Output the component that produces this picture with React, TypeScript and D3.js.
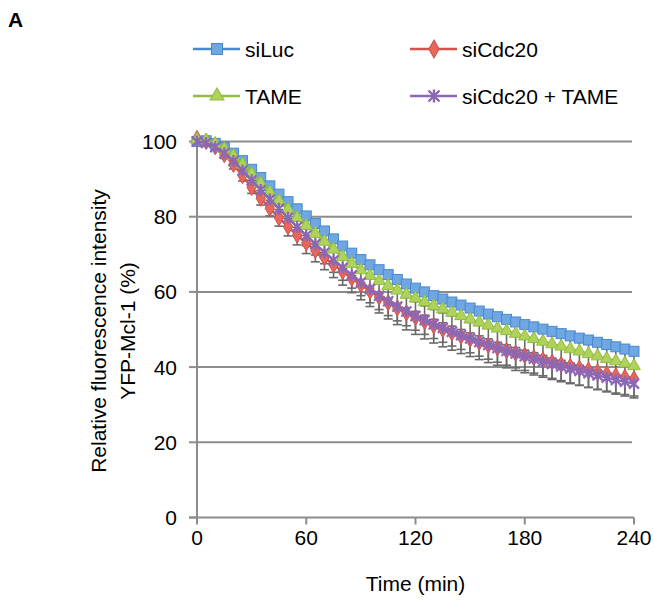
import React from "react";
import * as d3 from "d3";

// time points (min)
const times = [
  0, 5, 10, 15, 20, 25, 30, 35, 40, 45, 50, 55, 60, 65, 70, 75, 80, 85, 90, 95,
  100, 105, 110, 115, 120, 125, 130, 135, 140, 145, 150, 155, 160, 165, 170,
  175, 180, 185, 190, 195, 200, 205, 210, 215, 220, 225, 230, 235, 240,
];

const siLuc = [
  100, 100.2, 99.5, 98.4, 96.9, 94.9, 92.6, 90.4, 88.2, 86.0, 84.0, 82.1, 80.2,
  78.2, 76.2, 74.1, 72.2, 70.3, 68.6, 67.2, 65.9, 64.6, 63.3, 62.1, 61.0, 60.0,
  59.0, 58.1, 57.3, 56.5, 55.7, 54.9, 54.1, 53.4, 52.7, 52.0, 51.3, 50.7, 50.1,
  49.5, 48.9, 48.3, 47.7, 47.2, 46.6, 46.0, 45.4, 44.8, 44.2,
];
const siCdc20 = [
  100.8, 100, 98.6, 96.5, 93.9, 90.9, 87.8, 84.9, 82.2, 79.7, 77.3, 75.1, 73,
  71, 69.1, 67.2, 65.4, 63.6, 61.9, 60.2, 58.6, 57.1, 55.7, 54.4, 53.2, 52.1,
  51, 50, 49.1, 48.2, 47.4, 46.6, 45.8, 45.1, 44.4, 43.7, 43.1, 42.5, 41.9,
  41.3, 40.7, 40.2, 39.7, 39.2, 38.7, 38.2, 37.7, 37.3, 36.9,
];
const tame = [
  100.5, 100.3, 99.4, 98, 96.2, 93.9, 91.4, 88.9, 86.5, 84.2, 81.9, 79.7, 77.6,
  75.5, 73.4, 71.3, 69.3, 67.5, 65.8, 64.3, 62.9, 61.6, 60.4, 59.3, 58.3, 57.3,
  56.3, 55.4, 54.5, 53.6, 52.7, 51.9, 51.1, 50.3, 49.6, 48.9, 48.2, 47.5, 46.8,
  46.1, 45.5, 44.8, 44.2, 43.5, 42.9, 42.2, 41.6, 41.0, 40.3,
];
const combo = [
  100, 99.6, 98.5, 96.9, 94.8, 92.3, 89.7, 87.1, 84.6, 82.1, 79.7, 77.3, 75,
  72.7, 70.5, 68.4, 66.4, 64.4, 62.5, 60.7, 59, 57.5, 56.1, 54.8, 53.6, 52.5,
  51.4, 50.4, 49.4, 48.5, 47.6, 46.7, 45.9, 45.1, 44.3, 43.6, 42.9, 42.2, 41.5,
  40.8, 40.2, 39.6, 39, 38.4, 37.8, 37.2, 36.6, 36.1, 35.6,
];

// error (minus) per point
const errLuc = [
  0, 0.5, 0.8, 1.1, 1.4, 1.6, 1.8, 2.0, 2.2, 2.4, 2.5, 2.6, 2.7, 2.8, 2.9, 3.0,
  3.1, 3.2, 3.3, 3.3, 3.4, 3.5, 3.5, 3.6, 3.6, 3.7, 3.7, 3.7, 3.7, 3.7, 3.8,
  3.8, 3.8, 3.8, 3.8, 3.8, 3.9, 3.9, 3.9, 3.9, 3.9, 3.9, 3.9, 4.0, 4.0, 4.0,
  4.0, 4.0, 4.0,
];
const errCdc20 = [
  0, 0.5, 0.8, 1.0, 1.2, 1.4, 1.6, 1.8, 2.0, 2.2, 2.4, 2.6, 2.8, 3.0, 3.2, 3.4,
  3.6, 3.8, 4.0, 4.1, 4.2, 4.3, 4.4, 4.5, 4.5, 4.6, 4.6, 4.6, 4.6, 4.6, 4.6,
  4.6, 4.6, 4.6, 4.6, 4.6, 4.6, 4.6, 4.6, 4.6, 4.6, 4.6, 4.6, 4.6, 4.6, 4.6,
  4.6, 4.6, 4.6,
];
const errTame = [
  0, 0.4, 0.7, 1.0, 1.3, 1.5, 1.7, 1.9, 2.1, 2.3, 2.4, 2.5, 2.6, 2.8, 2.9, 3.0,
  3.1, 3.2, 3.3, 3.3, 3.4, 3.5, 3.5, 3.5, 3.5, 3.5, 3.6, 3.6, 3.6, 3.6, 3.6,
  3.6, 3.6, 3.7, 3.7, 3.7, 3.7, 3.7, 3.7, 3.7, 3.7, 3.7, 3.7, 3.7, 3.7, 3.7,
  3.7, 3.7, 3.7,
];
const errCombo = [
  0, 0.4, 0.7, 0.9, 1.1, 1.3, 1.5, 1.7, 1.9, 2.1, 2.3, 2.5, 2.7, 2.9, 3.0, 3.2,
  3.3, 3.4, 3.5, 3.6, 3.7, 3.8, 3.8, 3.8, 3.8, 3.8, 3.8, 3.8, 3.8, 3.8, 3.8,
  3.8, 3.8, 3.8, 3.8, 3.8, 3.8, 3.8, 3.8, 3.8, 3.8, 3.8, 3.8, 3.8, 3.8, 3.8,
  3.8, 3.8, 3.8,
];

const xTicks = [0, 60, 120, 180, 240];
const yTicks = [0, 20, 40, 60, 80, 100];

const FONT = "'Liberation Sans', Arial, Helvetica, sans-serif";
const AXIS = "#8c8c8c";

type Shape = "square" | "diamond" | "triangle" | "star";

const series = [
  { name: "siLuc", values: siLuc, err: errLuc, color: "#4a88d0", fill: "#6ea7e2", shape: "square" as Shape },
  { name: "siCdc20", values: siCdc20, err: errCdc20, color: "#d4524a", fill: "#e8675d", shape: "diamond" as Shape },
  { name: "TAME", values: tame, err: errTame, color: "#93bd41", fill: "#aed25a", shape: "triangle" as Shape },
  { name: "siCdc20 + TAME", values: combo, err: errCombo, color: "#8b68b6", fill: "#8b68b6", shape: "star" as Shape },
];

const legendPos = [
  { x: 193, y: 49 },
  { x: 410, y: 49 },
  { x: 193, y: 96 },
  { x: 410, y: 96 },
];

function Marker({ shape, x, y, color, fill, scale = 1 }: { shape: Shape; x: number; y: number; color: string; fill: string; scale?: number }) {
  const t = `translate(${x},${y}) scale(${scale})`;
  if (shape === "square") {
    return <rect x={-5} y={-5} width={10} height={10} transform={t} fill={fill} stroke={color} strokeWidth={1} />;
  }
  if (shape === "diamond") {
    return <path d={d3.symbol(d3.symbolDiamond, 75)() || ""} transform={t} fill={fill} stroke={color} strokeWidth={1} />;
  }
  if (shape === "triangle") {
    return <path d={d3.symbol(d3.symbolTriangle, 70)() || ""} transform={t} fill={fill} stroke={color} strokeWidth={1} />;
  }
  return <path d="M-5,-5L5,5M-5,5L5,-5M0,-6L0,6" transform={t} fill="none" stroke={color} strokeWidth={2.2} />;
}

export default function App() {
  const width = 654;
  const height = 606;
  const x = d3.scaleLinear().domain([0, 240]).range([197, 634]);
  const y = d3.scaleLinear().domain([0, 100]).range([517.5, 141.5]);
  const line = d3
    .line<number>()
    .x((_, i) => x(times[i]))
    .y((d) => y(d));

  return (
    <svg width={width} height={height} style={{ position: "absolute", left: 0, top: 0, background: "#fff" }} fontFamily={FONT}>
      <text x={8} y={27} fontSize={21} fontWeight="bold">A</text>

      {/* legend */}
      {series.map((s, i) => (
        <g key={s.name}>
          <line x1={legendPos[i].x} x2={legendPos[i].x + 47} y1={legendPos[i].y} y2={legendPos[i].y} stroke={s.color} strokeWidth={2.5} />
          <Marker shape={s.shape} x={legendPos[i].x + 24} y={legendPos[i].y} color={s.color} fill={s.fill} scale={1.1} />
          <text x={legendPos[i].x + 52} y={legendPos[i].y + 7.5} fontSize={21}>{s.name}</text>
        </g>
      ))}

      {/* gridlines */}
      {yTicks.filter((t) => t > 0).map((t) => (
        <line key={t} x1={x(0)} x2={x(240) - 2} y1={y(t)} y2={y(t)} stroke={AXIS} strokeWidth={2} />
      ))}

      {/* axes */}
      <line x1={x(0)} x2={x(0)} y1={y(0)} y2={y(100)} stroke={AXIS} strokeWidth={2} />
      <line x1={x(0) - 8} x2={x(240)} y1={y(0)} y2={y(0)} stroke={AXIS} strokeWidth={2} />
      {yTicks.map((t) => (
        <g key={t}>
          <line x1={x(0) - 8} x2={x(0)} y1={y(t)} y2={y(t)} stroke={AXIS} strokeWidth={2} />
          <text x={177} y={y(t) + 7.5} fontSize={21} textAnchor="end">{t}</text>
        </g>
      ))}
      {xTicks.map((t) => (
        <g key={t}>
          <line x1={x(t)} x2={x(t)} y1={y(0)} y2={y(0) + 7} stroke={AXIS} strokeWidth={2} />
          <text x={x(t)} y={545} fontSize={21} textAnchor="middle">{t}</text>
        </g>
      ))}
      <text x={415.5} y={591} fontSize={21} textAnchor="middle">Time (min)</text>
      <g transform="translate(106,331) rotate(-90)">
        <text x={0} y={0} fontSize={21} textAnchor="middle">Relative fluorescence intensity</text>
        <text x={0} y={29} fontSize={21} textAnchor="middle">YFP-Mcl-1 (%)</text>
      </g>

      {/* error bars (minus) */}
      {series.map((s) => (
        <g key={s.name + "-err"} stroke="#6a6a6a" strokeWidth={1.6}>
          {s.values.map((v, i) => (
            <g key={i}>
              <line x1={x(times[i])} x2={x(times[i])} y1={y(v)} y2={y(v - s.err[i])} />
              <line x1={x(times[i]) - 4.5} x2={x(times[i]) + 4.5} y1={y(v - s.err[i])} y2={y(v - s.err[i])} />
            </g>
          ))}
        </g>
      ))}

      {/* series */}
      {series.map((s) => (
        <g key={s.name}>
          <path d={line(s.values) || ""} fill="none" stroke={s.color} strokeWidth={2.5} />
          {s.values.map((v, i) => (
            <Marker key={i} shape={s.shape} x={x(times[i])} y={y(v)} color={s.color} fill={s.fill} />
          ))}
        </g>
      ))}
    </svg>
  );
}
